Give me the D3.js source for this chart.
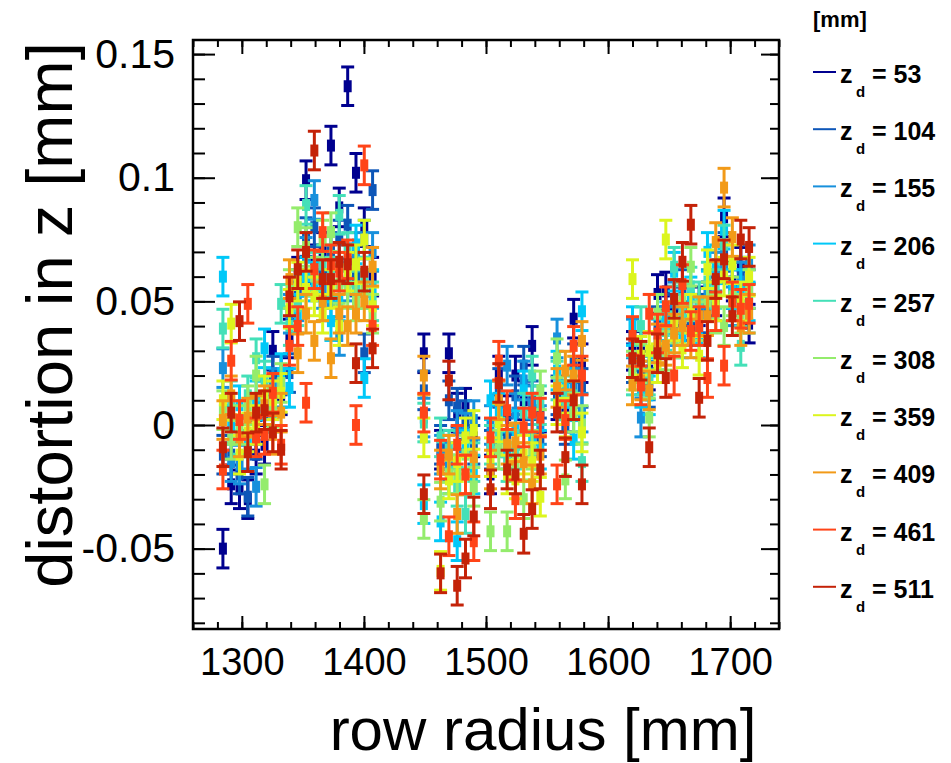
<!DOCTYPE html>
<html>
<head>
<meta charset="utf-8">
<script src="https://cdn.jsdelivr.net/npm/d3@7"></script>
<style>
	body { margin: 0; background: #fff; }
	text { font-family: "Liberation Sans", Arial, sans-serif; }
</style>
</head>
<body>
<script>
// row radius [mm] of each pad row
const radii = [
	1284.5, 1291.3, 1298.1, 1304.9, 1311.7, 1318.6, 1325.4, 1332.2, 1339.0, 1345.8,
	1352.6, 1359.4, 1366.2, 1373.0, 1379.8, 1386.7, 1393.5, 1400.3, 1407.1,
	1449.1, 1462.8, 1469.6, 1476.4, 1483.2, 1490.0, 1503.7, 1510.5, 1517.3, 1524.1,
	1530.9, 1537.8, 1544.5, 1558.2, 1565.0, 1571.8, 1578.6,
	1620.0, 1626.9, 1633.7, 1640.5, 1647.3, 1654.1, 1660.9, 1667.8, 1674.6, 1681.4,
	1688.2, 1695.0, 1701.8, 1708.7, 1715.5
];

const driftLengths = [53, 104, 155, 206, 257, 308, 359, 409, 461, 511];
const colors = ["#00008f", "#0d56b8", "#1790dc", "#00c8f8", "#44e0b8",
	"#94ec6c", "#dcf51e", "#f29a18", "#ff4418", "#c42208"];

// distortion in z [mm], one array per drift length
const z53 = [-0.050, -0.024, -0.026, -0.030, -0.012, -0.008, 0.030, 0.012, 0.035, 0.060, 0.099, 0.065, 0.070, 0.113, 0.088, 0.137, 0.102, 0.080, 0.060,
	0.029, -0.010, 0.029, 0.005, 0.007, -0.005, -0.020, 0.020, 0.004, 0.020, 0.010, 0.032, 0.005, 0.010, 0.005, 0.043, 0.025,
	0.030, 0.030, 0.022, 0.053, 0.054, 0.045, 0.048, 0.040, 0.048, 0.050, 0.052, 0.084, 0.058, 0.064, 0.041];
const z104 = [-0.012, -0.012, -0.020, -0.029, -0.006, 0.005, 0.020, 0.020, 0.021, 0.055, 0.076, 0.080, 0.060, 0.070, 0.075, 0.081, 0.060, 0.029, 0.095,
	0.014, -0.008, 0.010, 0.007, 0.002, -0.008, -0.010, 0.015, -0.005, 0.012, 0.024, 0.010, -0.005, 0.012, 0.000, 0.025, 0.015,
	0.025, 0.020, 0.015, 0.040, 0.045, 0.040, 0.055, 0.042, 0.045, 0.045, 0.050, 0.070, 0.055, 0.060, 0.055];
const z155 = [0.023, -0.015, -0.016, -0.010, -0.025, 0.010, 0.015, 0.015, 0.045, 0.050, 0.068, 0.091, 0.055, 0.050, 0.036, 0.058, 0.070, 0.075, 0.070,
	0.003, -0.012, -0.015, -0.002, -0.003, 0.002, 0.000, 0.010, 0.024, 0.005, 0.018, 0.008, 0.000, 0.035, 0.010, 0.015, 0.005,
	0.035, 0.003, 0.018, 0.030, 0.040, 0.050, 0.040, 0.045, 0.040, 0.055, 0.062, 0.065, 0.048, 0.058, 0.065];
const z206 = [0.060, 0.000, 0.008, -0.005, 0.010, 0.031, 0.010, 0.021, 0.015, 0.045, 0.060, 0.058, 0.050, 0.042, 0.050, 0.065, 0.073, 0.019, 0.055,
	-0.032, -0.039, -0.020, -0.047, -0.010, -0.020, 0.010, 0.005, -0.010, -0.002, 0.014, -0.005, -0.010, 0.022, 0.015, -0.006, 0.046,
	0.040, 0.015, 0.012, 0.035, 0.042, 0.062, 0.035, 0.052, 0.035, 0.070, 0.065, 0.079, 0.055, 0.055, 0.050];
const z257 = [0.039, 0.010, -0.004, 0.012, 0.027, 0.018, 0.005, 0.049, 0.040, 0.048, 0.089, 0.062, 0.065, 0.060, 0.085, 0.070, 0.055, 0.060, 0.050,
	0.001, -0.005, -0.010, -0.025, -0.036, -0.015, -0.008, -0.005, -0.015, -0.010, 0.005, 0.020, 0.008, 0.018, 0.010, 0.012, -0.015,
	0.020, 0.040, 0.020, 0.030, 0.038, 0.064, 0.045, 0.056, 0.050, 0.058, 0.055, 0.073, 0.050, 0.032, 0.045];
const z308 = [0.006, -0.006, 0.000, 0.008, 0.020, -0.024, 0.007, 0.017, 0.055, 0.080, 0.072, 0.060, 0.075, 0.078, 0.057, 0.055, 0.050, 0.055, 0.045,
	-0.038, -0.031, -0.020, -0.020, -0.012, -0.025, -0.043, -0.010, -0.043, -0.015, -0.030, -0.010, 0.014, 0.027, -0.022, 0.005, 0.000,
	0.022, 0.025, 0.003, 0.045, 0.030, 0.035, 0.050, 0.064, 0.042, 0.050, 0.045, 0.040, 0.052, 0.045, 0.055];
const z359 = [0.010, 0.041, -0.012, -0.003, 0.000, 0.012, 0.010, 0.013, 0.047, 0.058, 0.055, 0.052, 0.045, 0.055, 0.040, 0.062, 0.065, 0.075, 0.048,
	-0.005, -0.059, -0.022, -0.015, -0.005, -0.002, -0.013, 0.001, -0.020, -0.022, -0.012, -0.015, -0.029, 0.008, 0.003, 0.010, -0.003,
	0.059, 0.028, 0.030, 0.025, 0.075, 0.042, 0.031, 0.045, 0.028, 0.063, 0.050, 0.060, 0.065, 0.050, 0.060];
const z409 = [0.002, 0.012, -0.005, 0.003, 0.004, 0.008, -0.004, 0.005, 0.059, 0.029, 0.045, 0.034, 0.050, 0.027, 0.045, 0.040, 0.045, 0.050, 0.064,
	0.020, -0.018, -0.012, -0.036, -0.020, -0.013, -0.018, 0.010, -0.008, -0.007, -0.015, -0.024, -0.012, 0.015, 0.022, 0.020, 0.034,
	0.016, 0.018, 0.014, 0.033, 0.032, 0.037, 0.040, 0.035, 0.044, 0.044, 0.074, 0.096, 0.076, 0.040, 0.045];
const z461 = [-0.018, 0.026, 0.002, 0.049, -0.005, -0.004, 0.013, -0.008, 0.032, 0.040, 0.009, 0.063, 0.078, 0.065, 0.062, 0.067, 0.000, 0.105, 0.040,
	0.005, -0.014, -0.045, -0.008, -0.020, -0.047, -0.005, 0.026, 0.006, -0.030, -0.001, 0.005, 0.003, -0.024, 0.002, 0.032, 0.020,
	0.036, 0.016, 0.045, 0.037, 0.048, 0.020, 0.057, 0.038, 0.040, 0.019, 0.046, 0.024, 0.050, 0.047, 0.049];
const z511 = [-0.009, 0.005, 0.042, -0.011, 0.005, 0.006, -0.003, -0.010, 0.052, 0.063, 0.070, 0.111, 0.059, 0.059, 0.066, 0.065, 0.025, 0.062, 0.031,
	-0.028, -0.060, 0.018, -0.065, -0.054, -0.037, -0.026, 0.017, -0.018, -0.020, -0.044, -0.034, -0.018, 0.005, -0.013, 0.010, -0.024,
	0.027, 0.026, -0.009, 0.029, 0.019, 0.051, 0.066, 0.081, 0.011, 0.034, 0.059, 0.067, 0.044, 0.075, 0.072];

const errorHalf = 0.0078; // half length of the error bars [mm]

const xMajorTicks = [1300, 1400, 1500, 1600, 1700];
const yMajorTicks = [-0.05, 0, 0.05, 0.1, 0.15];

const seriesValues = [z53, z104, z155, z206, z257, z308, z359, z409, z461, z511];
const series = driftLengths.map((zd, i) => ({
	zd,
	color: colors[i],
	points: radii.map((r, j) => ({ r, v: seriesValues[i][j] }))
}));

const svgWidth = 951;
const svgHeight = 763;
const plot = { left: 193, right: 779, top: 40, bottom: 629 };

const svg = d3.select("body")
	.append("svg")
	.attr("width", svgWidth)
	.attr("height", svgHeight);

const xScale = d3.scaleLinear().domain([1260, 1740]).range([plot.left, plot.right]);
const yScale = d3.scaleLinear().domain([-0.0825, 0.1557]).range([plot.bottom, plot.top]);

const xMinorTicks = d3.range(63, 88).map((i) => i * 20);
const yMinorTicks = d3.range(-8, 16).map((i) => i / 100);

const fmtY = (d) => (d === 0 ? "0" : String(+d.toFixed(2)));

const styleAxis = (size) => (g) => {
	g.select(".domain").remove();
	g.selectAll("line").attr("stroke", "#000").attr("stroke-width", 2);
	g.selectAll("text").attr("fill", "#000").style("font-size", `${size}px`);
};

// bottom and top
svg.append("g")
	.attr("transform", `translate(0 ${plot.bottom})`)
	.call(d3.axisBottom(xScale).tickValues(xMinorTicks).tickSize(-7).tickFormat(""))
	.call(styleAxis(38));
svg.append("g")
	.attr("transform", `translate(0 ${plot.bottom})`)
	.call(d3.axisBottom(xScale).tickValues(xMajorTicks).tickSize(-13).tickPadding(19).tickFormat(d3.format("d")))
	.call(styleAxis(38));
svg.append("g")
	.attr("transform", `translate(0 ${plot.top})`)
	.call(d3.axisTop(xScale).tickValues(xMinorTicks).tickSize(-7).tickFormat(""))
	.call(styleAxis(38));
svg.append("g")
	.attr("transform", `translate(0 ${plot.top})`)
	.call(d3.axisTop(xScale).tickValues(xMajorTicks).tickSize(-14).tickFormat(""))
	.call(styleAxis(38));

// left and right
svg.append("g")
	.attr("transform", `translate(${plot.left} 0)`)
	.call(d3.axisLeft(yScale).tickValues(yMinorTicks).tickSize(-12).tickFormat(""))
	.call(styleAxis(41));
svg.append("g")
	.attr("transform", `translate(${plot.left} 0)`)
	.call(d3.axisLeft(yScale).tickValues(yMajorTicks).tickSize(-22).tickPadding(18).tickFormat(fmtY))
	.call(styleAxis(41));
svg.append("g")
	.attr("transform", `translate(${plot.right} 0)`)
	.call(d3.axisRight(yScale).tickValues(yMinorTicks).tickSize(-9).tickFormat(""))
	.call(styleAxis(41));
svg.append("g")
	.attr("transform", `translate(${plot.right} 0)`)
	.call(d3.axisRight(yScale).tickValues(yMajorTicks).tickSize(-18).tickFormat(""))
	.call(styleAxis(41));

svg.append("rect")
	.attr("x", plot.left)
	.attr("y", plot.top)
	.attr("width", plot.right - plot.left)
	.attr("height", plot.bottom - plot.top)
	.attr("fill", "none")
	.attr("stroke", "#000")
	.attr("stroke-width", 2.5);

// error bars + markers, later drift lengths drawn on top
const capHalf = 6.5;
const groups = svg.append("g")
	.selectAll("g")
	.data(series)
	.join("g")
	.attr("stroke", (d) => d.color)
	.attr("fill", (d) => d.color);

const pts = groups.selectAll("g")
	.data((d) => d.points)
	.join("g")
	.attr("transform", (d) => `translate(${xScale(d.r)} 0)`);

pts.append("line")
	.attr("y1", (d) => yScale(d.v - errorHalf))
	.attr("y2", (d) => yScale(d.v + errorHalf))
	.attr("stroke-width", 3);
pts.append("line")
	.attr("x1", -capHalf).attr("x2", capHalf)
	.attr("y1", (d) => yScale(d.v + errorHalf))
	.attr("y2", (d) => yScale(d.v + errorHalf))
	.attr("stroke-width", 3);
pts.append("line")
	.attr("x1", -capHalf).attr("x2", capHalf)
	.attr("y1", (d) => yScale(d.v - errorHalf))
	.attr("y2", (d) => yScale(d.v - errorHalf))
	.attr("stroke-width", 3);
pts.append("rect")
	.attr("x", -4)
	.attr("y", (d) => yScale(d.v) - 6)
	.attr("width", 8)
	.attr("height", 12)
	.attr("stroke", "none");

// axis titles
svg.append("text")
	.attr("x", 543)
	.attr("y", 750)
	.attr("text-anchor", "middle")
	.style("font-size", "60px")
	.text("row radius [mm]");

svg.append("text")
	.attr("transform", "translate(72 315) rotate(-90)")
	.attr("text-anchor", "middle")
	.style("font-size", "65px")
	.text("distortion in z [mm]");

// legend
const legend = svg.append("g").attr("transform", "translate(813 0)");

legend.append("text")
	.attr("x", 0)
	.attr("y", 27)
	.style("font-size", "22px")
	.style("font-weight", "bold")
	.text("[mm]");

const legendRow = legend.selectAll("g")
	.data(series)
	.join("g")
	.attr("transform", (d, i) => `translate(0 ${72 + i * 57.2})`);

legendRow.append("line")
	.attr("x1", 0).attr("x2", 23)
	.attr("stroke", (d) => d.color)
	.attr("stroke-width", 2);

legendRow.append("text")
	.attr("x", 27)
	.attr("y", 11)
	.style("font-size", "25px")
	.style("font-weight", "bold")
	.text("z");
legendRow.append("text")
	.attr("x", 43)
	.attr("y", 25)
	.style("font-size", "15px")
	.style("font-weight", "bold")
	.text("d");
legendRow.append("text")
	.attr("x", 59)
	.attr("y", 11)
	.style("font-size", "25px")
	.style("font-weight", "bold")
	.text((d) => `= ${d.zd}`);
</script>
</body>
</html>
